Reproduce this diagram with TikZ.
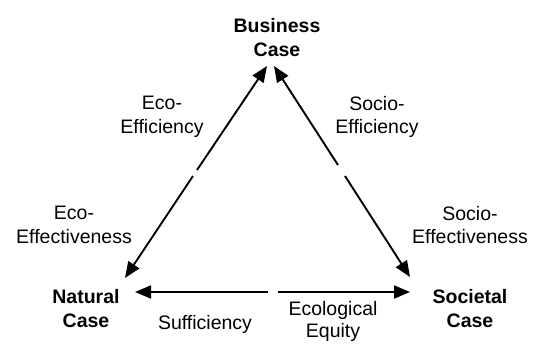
\documentclass[tikz,border=0pt]{standalone}
\usepackage{fontspec}
\setmainfont{Liberation Sans}
\usetikzlibrary{arrows.meta}
\begin{document}
\begin{tikzpicture}[x=1pt,y=-1pt,
  lbl/.style={align=center,inner sep=0pt,font=\fontsize{19.5}{23.5}\selectfont},
  hd/.style={lbl,font=\fontsize{19.5}{24}\selectfont\bfseries},
  arr/.style={line width=1.9pt,-{Triangle[length=16pt,width=13pt]}}]
\useasboundingbox (0,0) rectangle (533,343);
% text nodes
\node[hd] (bus) at (277,38) {Business\\Case};
\node[hd] (nat) at (86,309) {Natural\\Case};
\node[hd] (soc) at (470,309) {Societal\\Case};
\node[lbl] (ecoeff) at (162,117) {Eco-\\Efficiency};
\node[lbl] (socioeff) at (377,117) {Socio-\\Efficiency};
\node[lbl] (ecoefv) at (74,225) {Eco-\\Effectiveness};
\node[lbl] (socioefv) at (470,225) {Socio-\\Effectiveness};
\node[lbl] (suff) at (205,324) {Sufficiency};
\node[lbl,font=\fontsize{19.5}{22.5}\selectfont] (equity) at (333,321.5) {Ecological\\Equity};
% arrow end points
\coordinate (bl) at (267,66);
\coordinate (br) at (274,66);
\coordinate (nt) at (125,278);
\coordinate (st) at (410,277);
\coordinate (nb) at (135,292);
\coordinate (sb) at (410,292);
\coordinate (gl1) at (197,170);
\coordinate (gl2) at (193,176);
\coordinate (gr1) at (338,165);
\coordinate (gr2) at (345,176);
\coordinate (gb1) at (268,292);
\coordinate (gb2) at (278,292);
% connectors
\draw[arr] (gl1) -- (bl);
\draw[arr] (gl2) -- (nt);
\draw[arr] (gr1) -- (br);
\draw[arr] (gr2) -- (st);
\draw[arr] (gb1) -- (nb);
\draw[arr] (gb2) -- (sb);
\end{tikzpicture}
\end{document}
